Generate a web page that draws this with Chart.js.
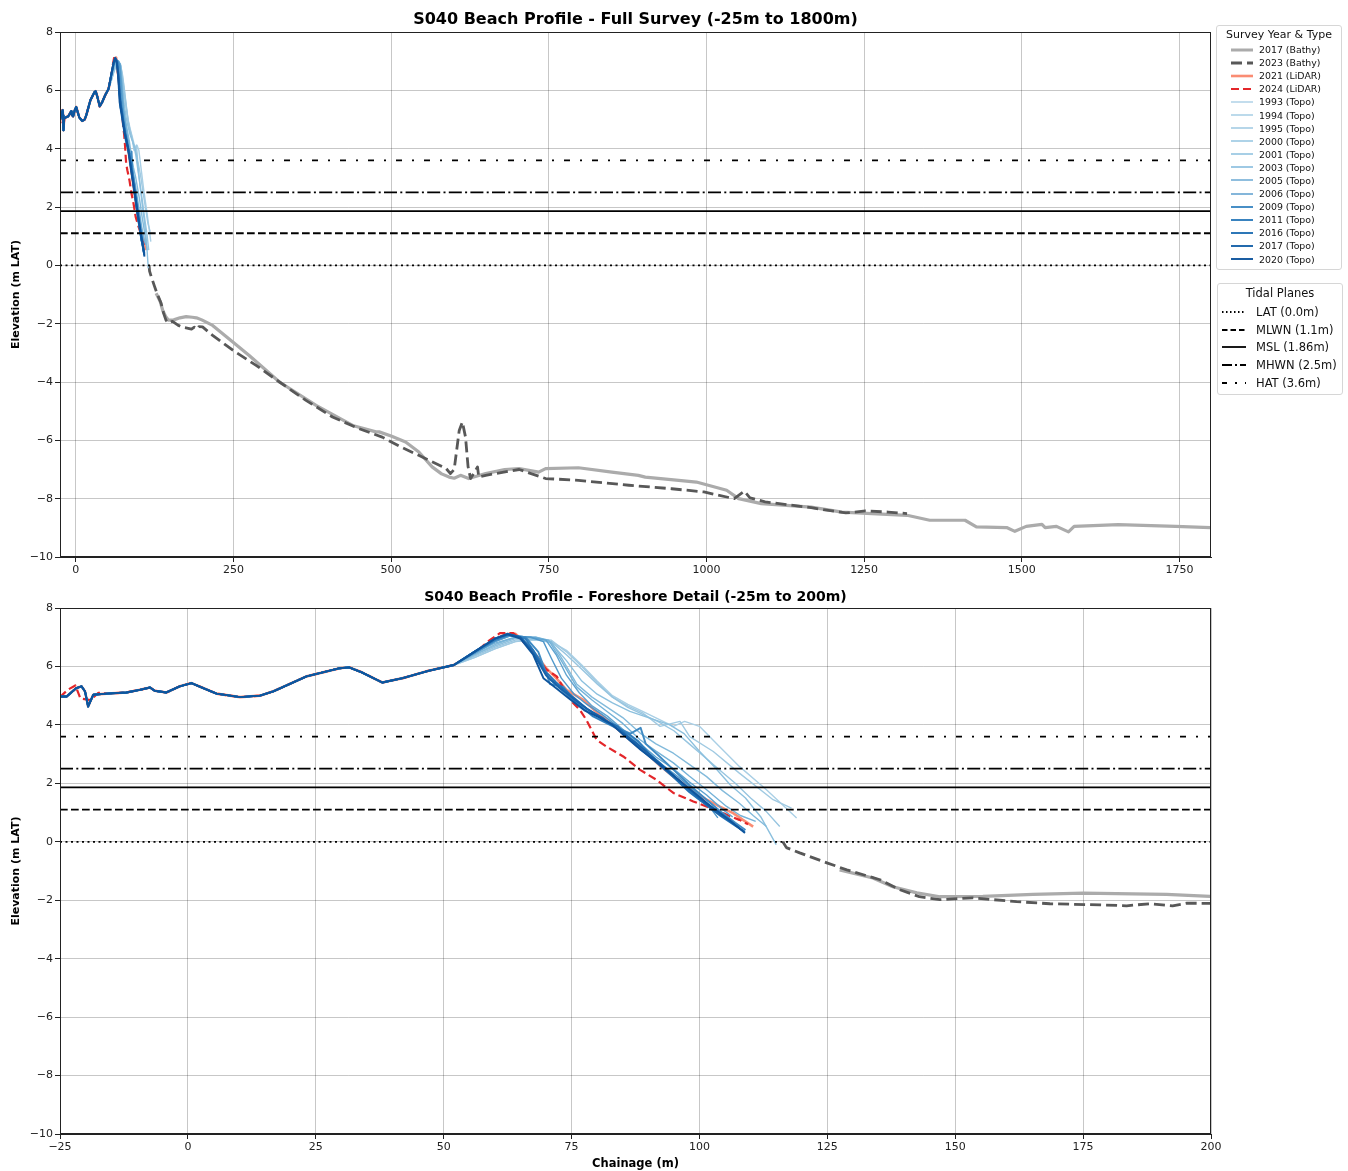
<!DOCTYPE html>
<html>
<head>
<meta charset="utf-8">
<title>S040 Beach Profile</title>
<script src="https://cdn.jsdelivr.net/npm/chart.js@4.4.1/dist/chart.umd.min.js"></script>
<style>
  body { margin: 0; background: #fff; font-family: 'DejaVu Sans', sans-serif; }
  #fig { position: relative; width: 1348px; height: 1171px; overflow: hidden; }
  canvas { position: absolute; left: 0; }
  .ttl { position: absolute; left: 60px; width: 1151px; text-align: center; font-weight: bold; line-height: 18px; color: #000; }
  .lg { position: absolute; background: rgba(255,255,255,0.9); border: 1px solid #d6d6d6; border-radius: 3px; box-sizing: border-box; }
  .lg .head { text-align: center; color: #111; }
  .lg .row { display: flex; align-items: center; white-space: nowrap; color: #111; }
  .lg svg { flex: none; }
</style>
</head>
<body>
<div id="fig">
  <canvas id="full" width="1348" height="585" style="top:0"></canvas>
  <canvas id="detail" width="1348" height="586" style="top:585px"></canvas>
  <div class="ttl" style="top:10px; font-size:16px">S040 Beach Profile - Full Survey (-25m to 1800m)</div>
  <div class="ttl" style="top:587px; font-size:14px">S040 Beach Profile - Foreshore Detail (-25m to 200m)</div>
  <div class="lg" id="lg-survey" style="left:1216px; top:25px; width:126px; height:245px"></div>
  <div class="lg" id="lg-tidal" style="left:1217px; top:283px; width:126px; height:112px"></div>
</div>
<script>
'use strict';

// ── Data ──────────────────────────────────────────────────────────────────────
// chainage (m), elevation (m LAT)
const BACKSHORE = [
  [-25, 4.97], [-23.7, 4.97], [-21.8, 5.26], [-20.8, 5.32], [-20.1, 5.14], [-19.5, 4.63],
  [-18.5, 5.03], [-15.9, 5.07], [-12, 5.11], [-9.4, 5.2], [-7.4, 5.28], [-6.5, 5.17],
  [-4.2, 5.11], [-1.6, 5.32], [0.7, 5.43], [3, 5.26], [5.6, 5.07], [10.2, 4.95],
  [14.1, 5.0], [16.7, 5.15], [23.2, 5.66], [29.7, 5.94], [31.5, 5.97], [34, 5.8],
  [38, 5.45], [42, 5.6], [47, 5.85]
];
const LIDAR24_HEAD = [
  [-25, 4.95], [-23.5, 5.2], [-22, 5.35], [-21, 4.9], [-19, 4.85], [-17.5, 5.1]
];

const TOPO_YEARS  = ['1993', '1994', '1995', '2000', '2001', '2003', '2005', '2006', '2009', '2011', '2016', '2017', '2020'];
const TOPO_COLORS = ['#a9cfe5', '#a0cae2', '#97c5e0', '#8cc0de', '#82badb', '#74b2d8', '#5fa3d0',
                     '#4f97ca', '#3f8ac3', '#2f7dbc', '#2270b4', '#1862a9', '#0e559d'];

const T1993 = [[52, 6.05], [56, 6.3], [60, 6.6], [64, 6.85], [68, 6.9], [71, 6.85], [74, 6.55], [77, 6.05], [80, 5.5], [83, 5.0], [86, 4.7], [89, 4.45], [92, 4.2], [94.9, 3.95], [97.1, 4.12], [100, 3.95], [103.9, 3.26], [107.8, 2.58], [113.1, 1.78], [119, 0.81]];
const T1994 = [[52, 6.05], [56, 6.3], [60, 6.6], [64, 6.85], [68, 6.95], [71, 6.9], [74, 6.5], [77, 6.0], [80, 5.45], [83, 4.95], [86, 4.65], [89, 4.4], [92.3, 3.95], [96.2, 4.12], [98.1, 3.6], [102.7, 3.09], [107.8, 2.35], [114.4, 1.44], [118, 1.15]];
const T1995 = [[52, 6.05], [56, 6.35], [60, 6.65], [64, 6.9], [68, 6.95], [71, 6.85], [74, 6.4], [77, 5.9], [80, 5.4], [83, 4.95], [86, 4.6], [89, 4.35], [92, 4.1], [95, 3.8], [98, 3.35], [101, 2.9], [104, 2.45], [107, 2.0], [110, 1.5], [113, 1.05], [115.7, 0.52]];
const T2000 = [[52, 6.05], [56, 6.4], [60, 6.7], [64, 6.95], [68, 6.95], [71, 6.8], [74, 6.2], [77, 5.5], [80, 5.05], [83, 4.75], [86.4, 4.46], [90, 4.25], [94.2, 4.0], [97, 3.7], [100, 3.1], [103, 2.55], [106, 1.95], [109, 1.5], [112, 0.85], [115, -0.1]];
const T2001 = [[52, 6.05], [56, 6.4], [60, 6.75], [64, 7.0], [68, 7.0], [71, 6.85], [73, 6.3], [76, 5.4], [79, 4.95], [82, 4.6], [85, 4.25], [88.4, 3.72], [91.5, 3.35], [94.9, 3.03], [98, 2.65], [101.4, 2.23], [104.5, 1.75], [107.8, 1.32], [110.5, 0.9], [113.1, 0.52]];
const T2003 = [[52, 6.05], [56, 6.45], [60, 6.8], [64, 7.0], [68, 7.0], [70.5, 6.9], [73, 6.2], [76, 5.3], [79, 4.85], [82, 4.45], [85, 4.05], [88.4, 3.49], [91.5, 3.1], [94.9, 2.7], [98, 2.25], [101.4, 1.78], [105.3, 1.21], [108, 0.9], [111, 0.7]];
const T2005 = [[52, 6.05], [56, 6.45], [60, 6.85], [63, 7.05], [67, 7.0], [70, 6.9], [72, 6.4], [74, 5.7], [76.5, 5.1], [79, 4.65], [82, 4.3], [85, 3.85], [88.4, 3.35], [91.5, 2.9], [94.9, 2.5], [98, 2.05], [101.4, 1.6], [104.6, 1.1], [106.5, 0.85]];
const T2006 = [[52, 6.05], [56, 6.45], [60, 6.85], [63, 7.05], [67, 7.0], [69.5, 6.85], [71, 6.3], [73, 5.6], [75.5, 5.05], [78, 4.7], [81, 4.35], [84, 3.95], [87, 3.5], [90, 3.05], [93, 2.6], [96, 2.2], [99, 1.75], [101.5, 1.3], [103.6, 0.82]];
const T2009 = [[52, 6.05], [56, 6.5], [60, 6.9], [62.8, 7.08], [66, 7.0], [68.5, 6.5], [70.8, 5.4], [73.4, 5.3], [75.5, 4.85], [78, 4.55], [81, 4.2], [84, 3.9], [86.5, 3.7], [88.5, 3.9], [89.5, 3.35], [92, 2.95], [95, 2.45], [98, 1.95], [101, 1.5], [104, 1.05], [107, 0.65], [109, 0.4]];
const T2011 = [[52, 6.05], [56, 6.5], [60, 6.9], [62.8, 7.1], [66, 6.95], [68.5, 6.3], [70.5, 5.6], [73, 5.2], [76, 4.75], [79.2, 4.29], [83.1, 3.95], [86.4, 3.66], [88, 3.45], [91, 2.85], [94.9, 2.23], [100.1, 1.44], [104.6, 0.87], [107.9, 0.47]];
const T2016 = [[52, 6.05], [56, 6.5], [60, 6.95], [62.5, 7.1], [65, 7.0], [67.5, 6.55], [69.5, 5.9], [72, 5.45], [75, 5.0], [78, 4.55], [81, 4.2], [84, 3.95], [86.5, 3.5], [89, 3.1], [92, 2.65], [95, 2.2], [98, 1.7], [101, 1.3], [104, 0.9], [107, 0.55], [108.9, 0.34]];
const T2017 = [[52, 6.05], [56, 6.5], [60, 6.95], [62.5, 7.12], [65, 7.0], [67.5, 6.45], [70, 5.7], [72.5, 5.3], [75, 4.95], [78, 4.55], [81, 4.25], [84, 3.85], [87.5, 3.4], [90.5, 2.95], [93.5, 2.5], [97, 1.95], [100, 1.5], [103, 1.05], [106, 0.7], [108.5, 0.38]];
const T2020 = [[52, 6.05], [56, 6.5], [60, 6.95], [62.5, 7.1], [65, 6.95], [67.5, 6.4], [69.5, 5.6], [72, 5.25], [74.5, 4.9], [77.5, 4.5], [80.5, 4.25], [83, 4.0], [85.5, 3.6], [88.5, 3.15], [91.5, 2.75], [95, 2.25], [98.5, 1.75], [102, 1.25], [105.5, 0.8], [108.9, 0.3]];
const TOPO_TAILS = [T1993, T1994, T1995, T2000, T2001, T2003, T2005, T2006, T2009, T2011, T2016, T2017, T2020];

const LIDAR21_TAIL = [[52, 6.05], [56, 6.45], [60, 6.9], [62, 7.1], [64, 7.12], [66, 6.8], [68, 6.4], [70, 5.95], [72, 5.6], [74, 5.2], [77.3, 4.86], [79.5, 4.5], [81.8, 4.17], [83.7, 3.9], [85.7, 3.6], [87.7, 3.3], [89.7, 3.03], [92.3, 2.6], [94.9, 2.23], [98, 1.85], [101.4, 1.44], [104, 1.2], [106.6, 0.98], [108.5, 0.75], [110.5, 0.52]];
const LIDAR24_TAIL = [[52, 6.05], [56, 6.45], [59, 6.9], [61, 7.14], [63.6, 7.14], [66.2, 6.74], [68.2, 6.34], [70.1, 5.89], [72.1, 5.66], [74, 5.09], [75.3, 4.75], [76.6, 4.52], [77.9, 4.17], [79.9, 3.49], [81.8, 3.26], [85.1, 2.92], [88.4, 2.46], [91.6, 2.12], [94.9, 1.67], [98.8, 1.38], [101.5, 1.2], [104.6, 0.98], [107.8, 0.75], [109.5, 0.6]];

const BATHY17 = [
  [127.4, -0.96], [133.9, -1.24], [137.8, -1.54], [142.5, -1.75], [147, -1.88], [155.4, -1.87],
  [165.2, -1.8], [175, -1.76], [184.7, -1.78], [191.3, -1.8], [199.8, -1.87], [217, -2.06],
  [249, -2.63], [275, -3.09], [323, -4.0], [381, -4.8], [439, -5.49], [476, -5.71], [481, -5.71],
  [500, -5.85], [523, -6.06], [544, -6.4], [565, -6.91], [580, -7.15], [592, -7.26], [600, -7.3],
  [610, -7.2], [623, -7.31], [650, -7.14], [680, -7.0], [703, -6.97], [734, -7.09], [745, -6.97],
  [797, -6.94], [850, -7.09], [892, -7.2], [903, -7.26], [956, -7.37], [984, -7.43], [1032, -7.71],
  [1051, -8.0], [1087, -8.17], [1166, -8.29], [1215, -8.46], [1318, -8.57], [1354, -8.74],
  [1410, -8.74], [1428, -8.97], [1476, -8.99], [1489, -9.12], [1507, -8.95], [1532, -8.88],
  [1537, -8.99], [1555, -8.95], [1574, -9.14], [1583, -8.95], [1653, -8.89], [1744, -8.95], [1799, -8.99]
];
const BATHY23 = [
  [116.3, 0.0], [117, -0.2], [119.6, -0.38], [124.9, -0.72], [128.8, -0.96], [135.3, -1.3],
  [139.2, -1.64], [143, -1.88], [147, -1.98], [153.4, -1.92], [162, -2.05], [168.5, -2.12],
  [178.3, -2.16], [183.5, -2.19], [188, -2.12], [192.5, -2.19], [195.3, -2.1], [201, -2.11],
  [217, -2.4], [249, -2.91], [286, -3.43], [323, -4.0], [365, -4.63], [407, -5.2], [449, -5.6],
  [486, -5.89], [513, -6.2], [555, -6.63], [587, -6.96], [594, -7.14], [600, -7.0], [608, -5.66],
  [613, -5.37], [618, -5.89], [622, -6.9], [626, -7.31], [632, -7.1], [637, -6.91], [639, -7.26],
  [650, -7.2], [666, -7.14], [703, -7.0], [745, -7.31], [797, -7.37], [877, -7.54], [945, -7.66],
  [996, -7.77], [1044, -8.0], [1060, -7.74], [1069, -7.97], [1093, -8.11], [1166, -8.31],
  [1221, -8.49], [1252, -8.42], [1288, -8.46], [1318, -8.51]
];

const TIDAL_NAMES  = ['LAT (0.0m)', 'MLWN (1.1m)', 'MSL (1.86m)', 'MHWN (2.5m)', 'HAT (3.6m)'];
const TIDAL_LEVELS = [0, 1.1, 1.86, 2.5, 3.6];
const TIDAL_DASH   = [[2, 3.5], [7.7, 3.3], [], [13, 3.3, 2, 3.3], [6, 10, 2, 10]];

const Y_TICKS       = [-10, -8, -6, -4, -2, 0, 2, 4, 6, 8];
const X_TICKS_FULL  = [0, 250, 500, 750, 1000, 1250, 1500, 1750];
const X_TICKS_SHORE = [-25, 0, 25, 50, 75, 100, 125, 150, 175, 200];

// ── Series ────────────────────────────────────────────────────────────────────
const pts = arr => arr.map(([x, y]) => ({ x, y }));
const backAfter = x0 => BACKSHORE.filter(p => p[0] > x0);

function seriesList() {
  const list = [
    { label: '2017 (Bathy)', data: BATHY17, color: '#ababab', width: 3.2, dash: [], order: 40 },
    { label: '2023 (Bathy)', data: BATHY23, color: '#585858', width: 2.8, dash: [11, 5], order: 39 },
    { label: '2021 (LiDAR)', data: BACKSHORE.concat(LIDAR21_TAIL), color: 'rgba(250,128,100,0.9)', width: 2.6, dash: [], order: 31 },
    { label: '2024 (LiDAR)', data: LIDAR24_HEAD.concat(backAfter(-17.5), LIDAR24_TAIL), color: '#e3262a', width: 2.2, dash: [8, 4], order: 30 },
  ];
  TOPO_YEARS.forEach((yr, i) => list.push({
    label: `${ yr } (Topo)`,
    data: BACKSHORE.concat(TOPO_TAILS[i]),
    color: TOPO_COLORS[i],
    width: i < 8 ? 1.4 : 1.9,
    dash: [],
    order: 2 + (12 - i),
  }));
  return list;
}

// ── Charts ────────────────────────────────────────────────────────────────────
const frame = {
  id: 'frame',
  afterDatasetsDraw(chart) {
    const { ctx, chartArea: a } = chart;
    ctx.save();
    ctx.strokeStyle = '#222';
    ctx.lineWidth = 1;
    ctx.strokeRect(a.left + 0.5, a.top + 0.5, a.right - a.left - 1, a.bottom - a.top - 1);
    ctx.restore();
  }
};

const minus = v => String(v).replace('-', '\u2212');

function makeChart(id, xMin, xMax, xTicks, xTitle, padTop) {
  const datasets = [];
  TIDAL_LEVELS.forEach((v, i) => datasets.push({
    label: TIDAL_NAMES[i],
    data: [{ x: xMin, y: v }, { x: xMax, y: v }],
    borderColor: '#000', borderWidth: 1.8, borderDash: TIDAL_DASH[i], order: 0,
  }));
  seriesList().forEach(s => datasets.push({
    label: s.label, data: pts(s.data),
    borderColor: s.color, borderWidth: s.width, borderDash: s.dash, order: s.order,
  }));

  const gridCol = 'rgba(0,0,0,0.22)';
  return new Chart(document.getElementById(id), {
    type: 'line',
    data: { datasets },
    options: {
      responsive: false,
      animation: false,
      events: [],
      layout: { padding: { top: padTop, right: 137, left: 0, bottom: 0 } },
      plugins: { legend: { display: false }, tooltip: { enabled: false }, title: { display: false } },
      elements: { point: { radius: 0 }, line: { tension: 0, borderJoinStyle: 'round' } },
      scales: {
        x: {
          type: 'linear', min: xMin, max: xMax,
          afterBuildTicks: s => { s.ticks = xTicks.map(v => ({ value: v })); },
          afterFit: s => { s.height = xTitle ? 37 : 28; },
          grid: { color: gridCol, lineWidth: 1, tickLength: 5, tickColor: '#222' },
          border: { color: '#222', width: 1 },
          ticks: { color: '#222', font: { family: 'DejaVu Sans', size: 11 }, padding: 2, maxRotation: 0, callback: minus },
          title: { display: !!xTitle, text: xTitle || '', color: '#000', font: { family: 'DejaVu Sans', size: 11.5, weight: 'bold' }, padding: { top: 1, bottom: 0 } },
        },
        y: {
          type: 'linear', min: -10, max: 8,
          afterBuildTicks: s => { s.ticks = Y_TICKS.map(v => ({ value: v })); },
          afterFit: s => { s.width = 60; },
          grid: { color: gridCol, lineWidth: 1, tickLength: 5, tickColor: '#222' },
          border: { color: '#222', width: 1 },
          ticks: { color: '#222', font: { family: 'DejaVu Sans', size: 11 }, padding: 2, callback: minus },
          title: { display: true, text: 'Elevation (m LAT)', color: '#000', font: { family: 'DejaVu Sans', size: 11, weight: 'bold' }, padding: { top: 10, bottom: 0 } },
        }
      }
    },
    plugins: [frame]
  });
}

// ── Legends ───────────────────────────────────────────────────────────────────
function sample(color, width, dash, w) {
  const d = dash.length ? ` stroke-dasharray="${ dash.join(',') }"` : '';
  return `<svg width="${ w }" height="8"><line x1="0" y1="4" x2="${ w }" y2="4" stroke="${ color }" stroke-width="${ width }"${ d }/></svg>`;
}

function buildLegends() {
  const a = document.getElementById('lg-survey');
  let html = `<div class="head" style="height:17px;line-height:17px;font-size:11px">Survey Year &amp; Type</div>`;
  seriesList().forEach(s => {
    html += `<div class="row" style="height:13.1px;font-size:9.4px;padding-left:14px">${ sample(s.color, Math.min(s.width, 3), s.dash, 22) }<span style="margin-left:6px">${ s.label }</span></div>`;
  });
  a.innerHTML = html;

  const b = document.getElementById('lg-tidal');
  html = `<div class="head" style="height:19px;line-height:19px;font-size:11.5px">Tidal Planes</div>`;
  TIDAL_NAMES.forEach((n, i) => {
    const dash = [[1.5, 2.5], [5.5, 3], [], [10, 3, 2, 3], [5, 8, 2, 8]][i];
    html += `<div class="row" style="height:17.7px;font-size:11.5px;padding-left:4px">${ sample('#000', 1.8, dash, 24) }<span style="margin-left:10px">${ n }</span></div>`;
  });
  b.innerHTML = html;
}

// ── Boot ──────────────────────────────────────────────────────────────────────
makeChart('full', -25, 1800, X_TICKS_FULL, null, 32);
makeChart('detail', -25, 200, X_TICKS_SHORE, 'Chainage (m)', 23);
buildLegends();
</script>
</body>
</html>
